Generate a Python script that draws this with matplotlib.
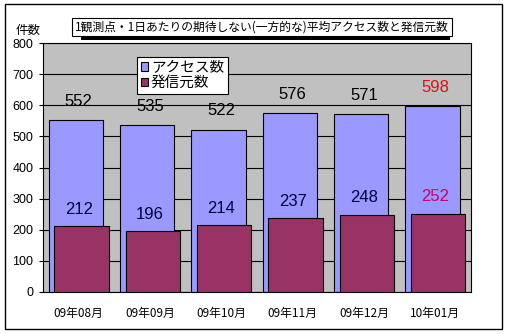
import matplotlib.pyplot as plt
import numpy as np
from matplotlib.patches import Rectangle

plt.rcParams['font.family'] = ['Noto Sans CJK JP', 'DejaVu Sans']

months = ["09年08月", "09年09月", "09年10月", "09年11月", "09年12月", "10年01月"]
access = [552, 535, 522, 576, 571, 598]
senders = [212, 196, 214, 237, 248, 252]
yticks = [0, 100, 200, 300, 400, 500, 600, 700, 800]
title = "1観測点・1日あたりの期待しない(一方的な)平均アクセス数と発信元数"
unit = "件数"

W, H = 507, 334
fig = plt.figure(figsize=(W / 100, H / 100), dpi=100)

# outer frame
fig.patches.append(Rectangle((5 / W, 1 - 329 / H), 497 / W, 325 / H, transform=fig.transFigure,
                             fill=False, edgecolor="black", lw=1))

ax = fig.add_axes([43 / W, 1 - 292 / H, 428 / W, 249 / H])
ax.set_facecolor("#c0c0c0")
x = np.arange(len(months))
w = 0.76
ax.bar(x - 0.04, access, w, color="#9999ff", edgecolor="black", lw=0.8, zorder=2, label="アクセス数")
ax.bar(x + 0.04, senders, w, color="#993366", edgecolor="black", lw=0.8, zorder=3, label="発信元数")

ax.set_xlim(-0.5, len(months) - 0.5)
ax.set_ylim(0, 800)
ax.set_yticks(yticks)
ax.set_yticklabels([str(v) for v in yticks], family="Liberation Sans")
ax.grid(axis="y", color="black", lw=0.8, zorder=1)
ax.set_axisbelow(True)
ax.set_xticks(x)
ax.set_xticklabels(months, fontsize=8.5)
ax.tick_params(axis="y", labelsize=9, length=3, pad=4)
ax.tick_params(axis="x", length=0, pad=11)
for s in ax.spines.values():
    s.set_color("black")
    s.set_linewidth(0.8)

for i in range(len(months)):
    c1 = "#e01010" if i == len(months) - 1 else "black"
    c2 = "#cc0066" if i == len(months) - 1 else "#000040"
    ax.text(x[i], access[i] + 36, str(access[i]), ha="center", va="bottom", fontsize=12,
            color=c1, family="Liberation Sans", zorder=5)
    ax.text(x[i], senders[i] + 30, str(senders[i]), ha="center", va="bottom", fontsize=12,
            color=c2, family="Liberation Sans", zorder=5)

# unit label above the y axis
ax.annotate(unit, xy=(0, 1), xycoords="axes fraction", xytext=(-20, 9), textcoords="offset points",
            fontsize=9, ha="left", va="center", annotation_clip=False)

# title with shadow box
fig.text(262 / W, 1 - 27 / H, title, ha="center", va="center", fontsize=8.5,
         bbox=dict(boxstyle="square,pad=0.25", facecolor="white", edgecolor="black", lw=0.8))
fig.patches.append(Rectangle((81 / W, 1 - 40 / H), 369 / W, 20 / H, transform=fig.transFigure,
                             facecolor="black", edgecolor="none", zorder=0))

leg = ax.legend(loc="upper left", bbox_to_anchor=(137 / W, 1 - 57 / H), bbox_transform=fig.transFigure,
                fontsize=10.5, frameon=True, fancybox=False, handlelength=0.5, handleheight=0.5,
                handletextpad=0.2, borderpad=0.25, labelspacing=0.1, borderaxespad=0)
leg.get_frame().set_edgecolor("black")
leg.get_frame().set_linewidth(0.8)
leg.get_frame().set_alpha(1)

fig.savefig("out.png", dpi=100)
